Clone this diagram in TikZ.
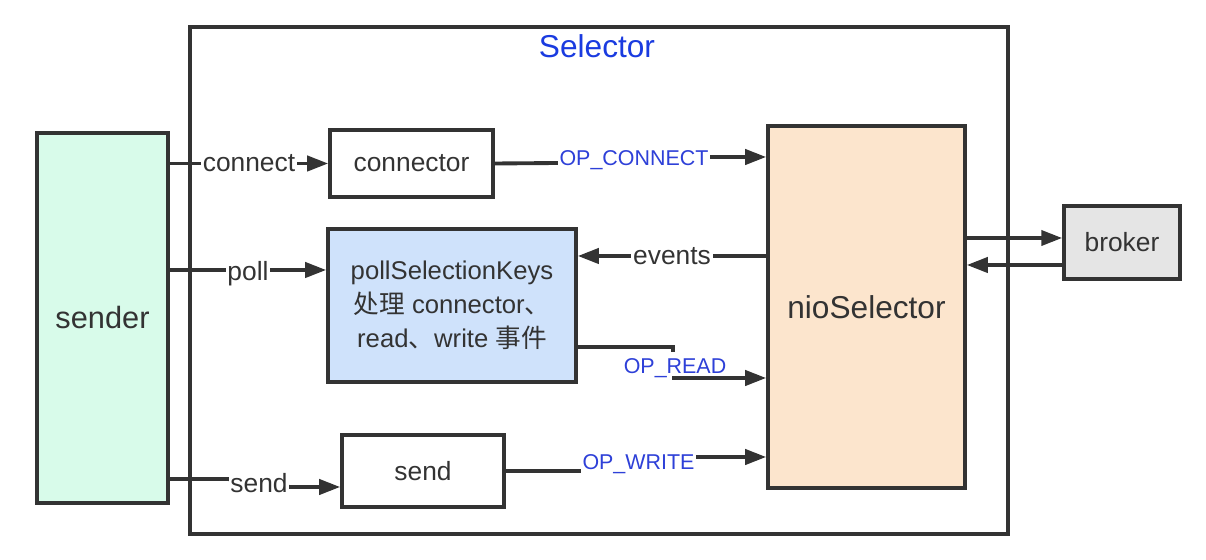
\documentclass[tikz,border=0pt]{standalone}
\usepackage{fontspec}
\setmainfont{Liberation Sans}
\newfontfamily\cjk{Noto Sans CJK SC}
\usepackage{tikz}
\usetikzlibrary{arrows.meta,calc}
\definecolor{linegray}{HTML}{333333}
\definecolor{opblue}{HTML}{2E40D8}
\definecolor{titleblue}{HTML}{1A3BE0}
\tikzset{
	box/.style={draw=linegray, line width=2pt, align=center, inner sep=0pt, font=\fontsize{15}{19}\selectfont, text=linegray},
	arr/.style={draw=linegray, line width=2.2pt, -{Triangle[length=0.42cm,width=0.3cm]}},
	plain/.style={draw=linegray, line width=2.2pt},
	lbl/.style={fill=white, inner sep=1pt, font=\fontsize{15}{18}\selectfont, text=linegray},
	oplbl/.style={fill=white, inner sep=1pt, font=\fontsize{12.2}{14}\selectfont, text=opblue}
}

\begin{document}
\begin{tikzpicture}
		%%%%% START %%%%%
		\useasboundingbox (0, 0) rectangle (24.12, 11.2);
		
		\draw[draw=linegray, line width=2pt] (3.8, 0.52) rectangle (20.16, 10.66);
		\node[text=titleblue, font=\fontsize{18}{20}\selectfont] (title) at (11.94, 10.28) {Selector};
		
		\node[box, fill={rgb,255:red,216;green,251;blue,234}, minimum width=2.62cm, minimum height=7.4cm, font=\fontsize{17.5}{20}\selectfont] (sender) at (2.05, 4.84) {sender};
		\node[box, minimum width=3.26cm, minimum height=1.34cm] (conn) at (8.23, 7.93) {connector};
		\node[box, fill={rgb,255:red,207;green,226;blue,251}, minimum width=4.96cm, minimum height=3.06cm, font=\fontsize{14.6}{19.3}\selectfont] (poll) at (9.04, 5.09) {pollSelectionKeys\\{\cjk 处理} connector{\cjk 、}\\read{\cjk 、}write {\cjk 事件}};
		\node[box, minimum width=3.24cm, minimum height=1.44cm] (send) at (8.46, 1.78) {send};
		\node[box, fill={rgb,255:red,252;green,229;blue,205}, minimum width=3.94cm, minimum height=7.24cm, font=\fontsize{18}{20}\selectfont] (nio) at (17.33, 5.06) {nioSelector};
		\node[box, fill={rgb,255:red,229;green,229;blue,229}, minimum width=2.32cm, minimum height=1.46cm] (broker) at (22.44, 6.35) {broker};
		
		% sender -> inner boxes
		\draw[arr] (sender.east |- conn.west) -- node[lbl] {connect} (conn.west);
		\draw[arr] (sender.east |- 0, 5.8) -- node[lbl, yshift=-2pt] {poll} (poll.west |- 0, 5.8);
		\draw[arr] (sender.east |- 0, 1.62) -- (4.56, 1.62) -- node[lbl] {send} (5.8, 1.46) -- (send.west |- 0, 1.46);
		
		% inner boxes <-> nioSelector
		\draw[arr] (conn.east) -- (11.16, 7.94) -- node[oplbl] {OP\_CONNECT} (14.2, 8.06) -- (nio.west |- 0, 8.06);
		\draw[arr] (nio.west |- 0, 6.08) -- node[lbl] {events} (poll.east |- 0, 6.08);
		\draw[plain] (poll.east |- 0, 4.26) -- (13.46, 4.26) -- (13.46, 4.16);
		\node[oplbl] (opread) at (13.5, 3.84) {OP\_READ};
		\draw[arr] (13.44, 3.64) -- (nio.west |- 0, 3.64);
		\draw[arr] (send.east) -- (11.64, 1.78) -- node[oplbl] {OP\_WRITE} (13.9, 2.06) -- (nio.west |- 0, 2.06);
		
		% nioSelector <-> broker
		\draw[arr] (nio.east |- 0, 6.44) -- (broker.west |- 0, 6.44);
		\draw[arr] (broker.west |- 0, 5.9) -- (nio.east |- 0, 5.9);
		
		%%%%% END %%%%%
	\end{tikzpicture}
\end{document}
